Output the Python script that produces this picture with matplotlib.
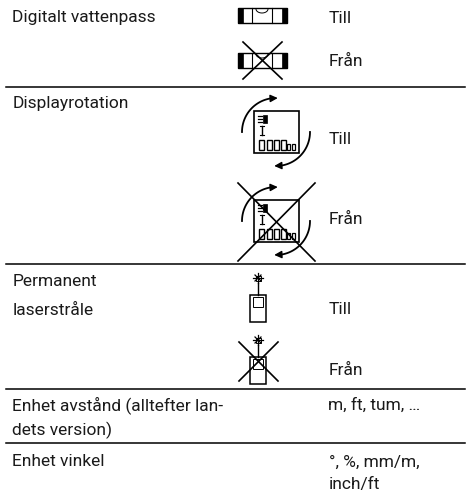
import numpy as np
import matplotlib
matplotlib.use("Agg")
import matplotlib.pyplot as plt
from matplotlib.patches import Rectangle

plt.rcParams['font.family'] = ['Roboto', 'DejaVu Sans']

# texts of the table: string, x, baseline in picture pixels
left_labels = ["Digitalt vattenpass", "Displayrotation", "Permanent", "laserstråle",
               "Enhet avstånd (alltefter lan-", "dets version)", "Enhet vinkel"]
left_x = [12.5] * 7
left_y = [22, 108, 286, 315, 410, 435, 466]
right_labels = ["Till", "Från", "Till", "Från", "Till", "Från",
                "m, ft, tum, …", "°, %, mm/m,", "inch/ft"]
right_x = [329, 329, 329, 329, 329, 329, 328, 329, 329]
right_y = [23, 66, 144, 224, 314, 375, 410, 467, 489]
rule_y = [87, 264, 389, 443]

FS = 12.5


def draw_level(ax, x0, y0):
    ax.add_patch(Rectangle((x0, y0), 49, 15, fc="white", ec="black", lw=1.0))
    ax.add_patch(Rectangle((x0, y0), 5, 15, fc="black", ec="black", lw=0.5))
    ax.add_patch(Rectangle((x0 + 44, y0), 5, 15, fc="black", ec="black", lw=0.5))
    for dx in [14, 34]:
        ax.plot([x0 + dx, x0 + dx], [y0, y0 + 15], color="black", lw=0.8)
    t = np.linspace(0, np.pi, 20)
    ax.plot(x0 + 24 + 6 * np.cos(t), y0 + 1 + 4 * np.sin(t), color="black", lw=0.7)


def draw_cross(ax, x0, x1, y0, y1):
    ax.plot([x0, x1], [y0, y1], color="black", lw=1.2)
    ax.plot([x0, x1], [y1, y0], color="black", lw=1.2)


def draw_arc(ax, xc, yc, r, a0, a1):
    # angles in degrees, measured on screen (y goes down)
    t = np.radians(np.linspace(a0, a1, 40))
    xs = xc + r * np.cos(t)
    ys = yc + r * np.sin(t)
    ax.plot(xs[:-3], ys[:-3], color="black", lw=1.3)
    ax.annotate("", xy=(xs[-1], ys[-1]), xytext=(xs[-6], ys[-6]),
                arrowprops=dict(arrowstyle="-|>", color="black", lw=1.0,
                                mutation_scale=11, shrinkA=0, shrinkB=0))


def draw_display(ax, x0, y0):
    ax.add_patch(Rectangle((x0, y0), 45, 42, fc="white", ec="black", lw=1.2))
    ax.add_patch(Rectangle((x0 + 9, y0 + 4), 4, 8, fc="black", ec="black", lw=0.5))
    for dy in [5, 8, 11]:
        ax.plot([x0 + 4, x0 + 8], [y0 + dy, y0 + dy], color="black", lw=0.9)
    ax.plot([x0 + 8, x0 + 8], [y0 + 15, y0 + 24], color="black", lw=1.0)
    ax.plot([x0 + 6, x0 + 10], [y0 + 15, y0 + 15], color="black", lw=0.8)
    ax.plot([x0 + 6, x0 + 10], [y0 + 24, y0 + 24], color="black", lw=0.8)
    for dx in [5, 13, 20, 27]:
        ax.add_patch(Rectangle((x0 + dx, y0 + 29), 5, 10, fc="none", ec="black", lw=1.0))
    for dx in [33, 38]:
        ax.add_patch(Rectangle((x0 + dx, y0 + 33), 3, 6, fc="none", ec="black", lw=0.9))
    # curved arrows round the display
    draw_arc(ax, x0 + 22, y0 + 21, 34, 180, 273)
    draw_arc(ax, x0 + 22, y0 + 21, 34, 0, 93)


def draw_laser(ax, xc, y0):
    ax.plot([xc - 3, xc + 3], [y0 - 3, y0 + 3], color="black", lw=0.9)
    ax.plot([xc - 3, xc + 3], [y0 + 3, y0 - 3], color="black", lw=0.9)
    ax.plot([xc - 5, xc + 5], [y0, y0], color="black", lw=0.9)
    ax.plot([xc, xc], [y0 - 5, y0 + 5], color="black", lw=0.9)
    ax.add_patch(Rectangle((xc - 2.5, y0 - 2.5), 5, 5, fc="white", ec="black", lw=0.7))
    ax.plot([xc, xc], [y0 + 5, y0 + 17], color="black", lw=1.0)
    ax.add_patch(Rectangle((xc - 8, y0 + 17), 16, 27, fc="white", ec="black", lw=1.1))
    ax.add_patch(Rectangle((xc - 5, y0 + 19), 10, 10, fc="white", ec="black", lw=0.7))


fig = plt.figure(figsize=(4.67, 4.92), dpi=100)
ax = fig.add_axes([0, 0, 1, 1])
ax.set_xlim(0, 467)
ax.set_ylim(492, 0)
ax.axis("off")

for y in rule_y:
    ax.plot([6, 465], [y, y], color="black", lw=1.1)

for s, x, y in zip(left_labels, left_x, left_y):
    ax.text(x, y, s, fontsize=FS, va="baseline", ha="left", color="#1a1a1a")
for s, x, y in zip(right_labels, right_x, right_y):
    ax.text(x, y, s, fontsize=FS, va="baseline", ha="left", color="#1a1a1a")

draw_level(ax, 238, 8)
draw_level(ax, 238, 53)
draw_cross(ax, 243, 282, 42, 79)

draw_display(ax, 254, 111)
draw_display(ax, 254, 200)
draw_cross(ax, 238, 315, 183, 261)

draw_laser(ax, 258, 278)
draw_laser(ax, 258, 340)
draw_cross(ax, 239, 278, 342, 381)

fig.savefig("out.png", dpi=100)
